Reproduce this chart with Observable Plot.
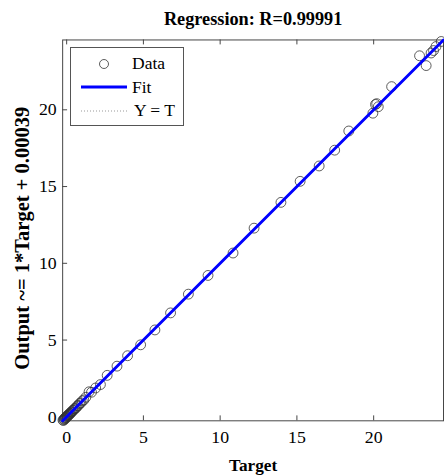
<!DOCTYPE html>
<html>
<head>
<meta charset="utf-8">
<script src="https://cdn.jsdelivr.net/npm/d3@7"></script>
<script src="https://cdn.jsdelivr.net/npm/@observablehq/plot@0.6"></script>
<style>
  html, body { margin: 0; padding: 0; background: #fff; overflow: hidden; }
  #wrap { position: relative; width: 444px; height: 475px; overflow: hidden; font-family: "Liberation Serif", "DejaVu Serif", serif; }
  #legend { position: absolute; left: 70px; top: 47px; width: 112px; height: 77px; border: 1px solid #555; background: #fff; }
  #legend span { position: absolute; font-size: 17.5px; line-height: 1; color: #000; white-space: nowrap; }
  #legend svg { position: absolute; left: 0; top: 0; }
</style>
</head>
<body>
<div id="wrap"></div>
<script>
// ---- data ----
const titleText = "Regression: R=0.99991";
const xLabel = "Target";
const yLabel = "Output ~= 1*Target + 0.00039";
const legendLabels = ["Data", "Fit", "Y = T"];
const xTicks = [0, 5, 10, 15, 20];
const yTicks = [0, 5, 10, 15, 20];
const axisLimits = [-0.26, 24.55];
const fitSlope = 1;
const fitIntercept = 0.00039;
const target = [-0.24,-0.2,-0.17,-0.14,-0.11,-0.08,-0.05,-0.02,0.01,0.04,0.07,0.1,0.13,0.17,0.21,0.25,0.29,0.34,0.39,0.44,0.5,0.56,0.62,0.69,0.76,0.84,0.93,1.02,1.12,1.25,1.46,1.62,1.89,2.2,2.64,3.28,3.97,4.82,5.75,6.77,7.93,9.21,10.84,12.21,13.96,15.21,16.45,17.46,18.38,19.95,20.12,20.2,20.3,21.17,22.99,23.42,23.74,23.9,24.06,24.4];
const output = [-0.22,-0.23,-0.15,-0.16,-0.08,-0.1,-0.03,-0.05,0.03,0.02,0.09,0.08,0.15,0.15,0.23,0.22,0.31,0.32,0.41,0.42,0.52,0.54,0.6,0.71,0.74,0.86,0.91,1.04,1.1,1.27,1.63,1.6,1.88,2.1,2.7,3.3,3.98,4.69,5.66,6.77,7.99,9.21,10.67,12.29,13.97,15.34,16.34,17.37,18.62,19.78,20.35,20.4,20.2,21.51,23.52,22.88,23.7,23.86,24.12,24.45];

// ---- layout ----
const W = 450, H = 475, mL = 63, mR = 1, mT = 40, mB = 49;
const frameW = W - mL - mR, frameH = H - mT - mB;
const axisColor = "#444";
const font = "Liberation Serif";

const chart = Plot.plot({
  width: W, height: H,
  marginLeft: mL, marginRight: mR, marginTop: mT, marginBottom: mB,
  style: { fontFamily: font, fontSize: "18px", color: "#000", background: "#fff", overflow: "visible" },
  x: { domain: axisLimits },
  y: { domain: axisLimits },
  marks: [
    Plot.frame({ stroke: axisColor, strokeWidth: 1 }),
    Plot.tickX(xTicks, { x: d => d, insetTop: frameH - 5, stroke: axisColor }),
    Plot.tickX(xTicks, { x: d => d, insetBottom: frameH - 5, stroke: axisColor }),
    Plot.tickY(yTicks, { y: d => d, insetRight: frameW - 5, stroke: axisColor }),
    Plot.axisX({ ticks: xTicks, tickSize: 0, tickPadding: 10, label: null, fontSize: 18, tickFormat: d => String(d) }),
    Plot.axisY({ ticks: yTicks, tickSize: 0, tickPadding: 6, label: null, fontSize: 18, tickFormat: d => String(d) }),
    Plot.dot(target, { x: target, y: output, r: 5, stroke: "#333", strokeWidth: 0.8, fill: "none" }),
    Plot.line(axisLimits, { x: d => d, y: d => d, stroke: "#999", strokeWidth: 1, strokeDasharray: "1,2" }),
    Plot.line(axisLimits, { x: d => d, y: d => fitSlope * d + fitIntercept, stroke: "#0000ff", strokeWidth: 3 }),
    Plot.text([titleText], { frameAnchor: "top", dy: -21, lineAnchor: "middle", fontWeight: "bold", fontSize: 18.5 }),
    Plot.text([xLabel], { frameAnchor: "bottom", dy: 45, lineAnchor: "middle", fontWeight: "bold", fontSize: 17.5 }),
    Plot.text([yLabel], { frameAnchor: "left", dx: -41, dy: 8, rotate: -90, textAnchor: "middle", fontWeight: "bold", fontSize: 20.8 })
  ]
});

const wrap = document.getElementById("wrap");
wrap.appendChild(chart);

// ---- legend ----
const legend = document.createElement("div");
legend.id = "legend";
legend.innerHTML = `
<svg width="112" height="77">
  <circle cx="33" cy="16" r="4.5" fill="none" stroke="#333" stroke-width="0.8"></circle>
  <line x1="10" x2="56" y1="39" y2="39" stroke="#0000ff" stroke-width="3"></line>
  <line x1="10" x2="56" y1="63" y2="63" stroke="#999" stroke-width="1" stroke-dasharray="1,2"></line>
</svg>
<span style="left:61px;top:7px">${legendLabels[0]}</span>
<span style="left:61px;top:31px">${legendLabels[1]}</span>
<span style="left:63px;top:54px">${legendLabels[2]}</span>`;
wrap.appendChild(legend);
</script>
</body>
</html>
